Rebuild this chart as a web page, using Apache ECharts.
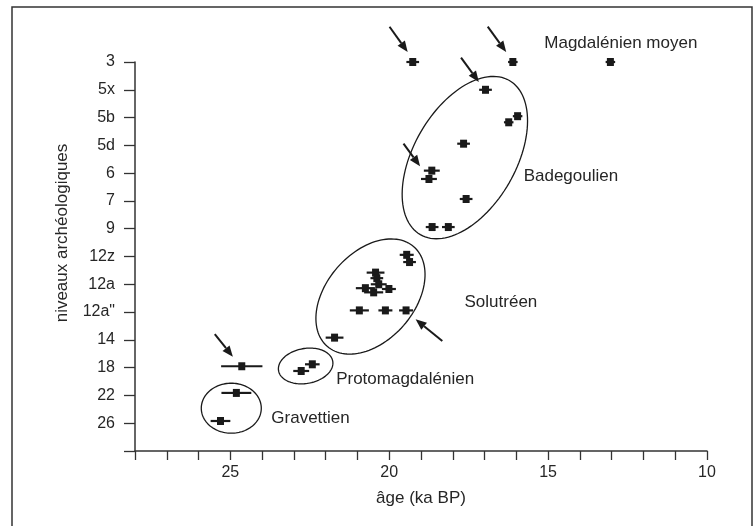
<!DOCTYPE html>
<html>
<head>
<meta charset="utf-8">
<script src="https://cdn.jsdelivr.net/npm/echarts@6/dist/echarts.min.js"></script>
<style>
  html, body { margin: 0; padding: 0; background: #fff; }
  #chart { width: 754px; height: 526px; }
</style>
</head>
<body>
<div id="chart"></div>
<script>
// tick labels of the level axis, bottom (0) to top (14)
var levelLabels = ['', '26', '22', '18', '14', '12a"', '12a', '12z', '9', '7', '6', '5d', '5b', '5x', '3']

// dates: age (ka BP), level position, half error bar (ka)
var ages = [19.26, 16.11, 13.04, 16.97, 16.24, 15.96, 17.66, 18.66, 18.75, 17.58, 18.65, 18.14,
  19.45, 19.36, 20.43, 20.39, 20.33, 20.75, 20.49, 20.01, 20.94, 20.12, 19.47, 21.72,
  24.64, 22.42, 22.77, 24.81, 25.31]
var levelPos = [14, 14, 14, 13, 11.83, 12.05, 11.06, 10.09, 9.79, 9.07, 8.06, 8.06,
  7.06, 6.8, 6.42, 6.22, 6.0, 5.86, 5.71, 5.83, 5.06, 5.06, 5.06, 4.08,
  3.05, 3.12, 2.88, 2.09, 1.08]
var errors = [0.2, 0.15, 0.15, 0.2, 0.15, 0.15, 0.2, 0.25, 0.25, 0.2, 0.2, 0.2,
  0.22, 0.2, 0.28, 0.2, 0.25, 0.3, 0.3, 0.22, 0.3, 0.22, 0.22, 0.28,
  0.65, 0.23, 0.25, 0.47, 0.31]

// group labels
var groupNames = ['Magdalénien moyen', 'Badegoulien', 'Solutréen', 'Protomagdalénien', 'Gravettien']
var groupAge = [15.12, 15.77, 17.63, 21.67, 23.71]
var groupLevel = [14.67, 9.87, 5.34, 2.59, 1.19]

// ellipses round the groups: centre age, centre level, semi axes (px), tilt (deg)
var ellipseAge = [17.62, 20.59, 22.63, 24.97]
var ellipseLevel = [10.56, 5.56, 3.06, 1.54]
var ellipseA = [89, 66, 27.5, 30]
var ellipseB = [51, 44, 17.5, 25]
var ellipseTilt = [60, 49, 10, 0]

// arrows: tail age, tail level, head age, head level
var arrows = [
  [19.99, 15.27, 19.42, 14.36],
  [16.90, 15.27, 16.32, 14.36],
  [17.74, 14.16, 17.18, 13.28],
  [19.55, 11.06, 19.03, 10.25],
  [18.33, 3.96, 19.17, 4.74],
  [25.49, 4.21, 24.92, 3.39]
]

var ink = '#1a1a1a'
var textInk = '#262626'
var font = "'Liberation Sans', Arial, sans-serif"

function renderDate(params, api) {
  var x = api.value(0), y = api.value(1), e = api.value(2)
  var p = api.coord([x, y])
  var l = api.coord([x + e, y])
  var r = api.coord([x - e, y])
  return {
    type: 'group',
    children: [
      { type: 'line', shape: { x1: l[0], y1: l[1], x2: r[0], y2: r[1] }, style: { stroke: ink, lineWidth: 2.2 } },
      { type: 'rect', shape: { x: p[0] - 3.5, y: p[1] - 4, width: 7, height: 8 }, style: { fill: ink } }
    ]
  }
}

function renderEllipse(params, api) {
  var c = api.coord([api.value(0), api.value(1)])
  var a = api.value(2), b = api.value(3), phi = api.value(4) * Math.PI / 180
  var pts = []
  for (var i = 0; i < 120; i++) {
    var t = i / 120 * Math.PI * 2
    pts.push([
      c[0] + a * Math.cos(phi) * Math.cos(t) - b * Math.sin(phi) * Math.sin(t),
      c[1] - (a * Math.sin(phi) * Math.cos(t) + b * Math.cos(phi) * Math.sin(t))
    ])
  }
  return { type: 'polygon', shape: { points: pts }, style: { fill: 'none', stroke: ink, lineWidth: 1.3 } }
}

function renderArrow(params, api) {
  var s = api.coord([api.value(0), api.value(1)])
  var h = api.coord([api.value(2), api.value(3)])
  var ang = Math.atan2(h[1] - s[1], h[0] - s[0])
  var len = 11, wid = 4.5
  var bx = h[0] - len * Math.cos(ang), by = h[1] - len * Math.sin(ang)
  return {
    type: 'group',
    children: [
      { type: 'line', shape: { x1: s[0], y1: s[1], x2: bx, y2: by }, style: { stroke: ink, lineWidth: 2 } },
      { type: 'polygon', shape: { points: [
        h,
        [bx + wid * Math.sin(ang), by - wid * Math.cos(ang)],
        [bx - wid * Math.sin(ang), by + wid * Math.cos(ang)]
      ] }, style: { fill: ink } }
    ]
  }
}

function renderLabel(params, api) {
  var p = api.coord([api.value(0), api.value(1)])
  return {
    type: 'text',
    x: p[0], y: p[1],
    style: { text: groupNames[params.dataIndex], fill: textInk, font: '17px ' + font, align: 'left', verticalAlign: 'middle' }
  }
}

var dates = ages.map(function (v, i) { return [v, levelPos[i], errors[i]] })
var ellipses = ellipseAge.map(function (v, i) { return [v, ellipseLevel[i], ellipseA[i], ellipseB[i], ellipseTilt[i]] })
var labels = groupAge.map(function (v, i) { return [v, groupLevel[i]] })

var chart = echarts.init(document.getElementById('chart'))
chart.setOption({
  animation: false,
  grid: { left: 135, right: 47, top: 62, bottom: 75 },
  graphic: [
    { type: 'rect', shape: { x: 12, y: 7, width: 740, height: 540 }, style: { fill: 'none', stroke: '#333', lineWidth: 1.5 } },
    { type: 'text', x: 62, y: 233, rotation: Math.PI / 2,
      style: { text: 'niveaux archéologiques', fill: textInk, font: '17px ' + font, align: 'center', verticalAlign: 'middle' } }
  ],
  xAxis: {
    type: 'value',
    min: 10,
    max: 28,
    interval: 1,
    inverse: true,
    name: 'âge (ka BP)',
    nameLocation: 'middle',
    nameGap: 39,
    nameTextStyle: { fontFamily: font, fontSize: 17, color: textInk },
    axisLine: { lineStyle: { color: '#333', width: 1.5 } },
    axisTick: { length: 9, lineStyle: { color: '#333', width: 1.3 } },
    axisLabel: {
      margin: 14,
      fontFamily: font, fontSize: 16, color: textInk,
      formatter: function (v) { return v % 5 === 0 ? String(v) : '' }
    },
    splitLine: { show: false }
  },
  yAxis: {
    type: 'value',
    min: 0,
    max: 14,
    interval: 1,
    axisLine: { show: true, lineStyle: { color: '#333', width: 1.5 } },
    axisTick: { show: true, length: 11, lineStyle: { color: '#333', width: 1.3 } },
    axisLabel: {
      margin: 20,
      fontFamily: font, fontSize: 16, color: textInk,
      formatter: function (v) { return levelLabels[v] || '' }
    },
    splitLine: { show: false }
  },
  series: [
    { type: 'custom', clip: false, renderItem: renderEllipse, data: ellipses, encode: { x: 0, y: 1 }, silent: true },
    { type: 'custom', clip: false, renderItem: renderArrow, data: arrows, encode: { x: [0, 2], y: [1, 3] }, silent: true },
    { type: 'custom', clip: false, renderItem: renderDate, data: dates, encode: { x: 0, y: 1 } },
    { type: 'custom', clip: false, renderItem: renderLabel, data: labels, encode: { x: 0, y: 1 }, silent: true }
  ]
})
</script>
</body>
</html>
